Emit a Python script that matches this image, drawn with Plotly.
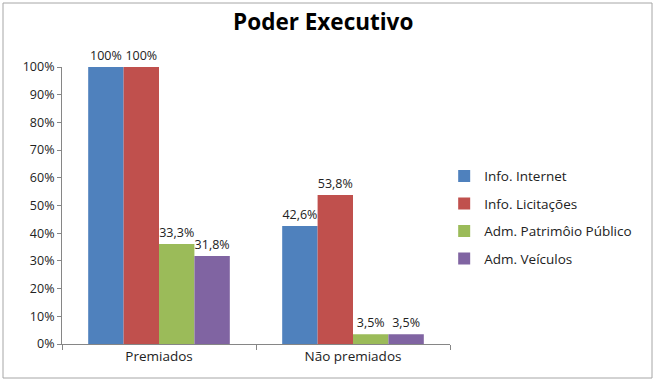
import plotly.graph_objects as go

categories = ["Premiados", "Não premiados"]
series_names = ["Info. Internet", "Info. Licitações", "Adm. Patrimôio Público", "Adm. Veículos"]
values = [
    [100, 42.6],
    [100, 53.8],
    [36.1, 3.5],
    [31.8, 3.5],
]
labels = [
    ["100%", "42,6%"],
    ["100%", "53,8%"],
    ["33,3%", "3,5%"],
    ["31,8%", "3,5%"],
]
colors = ["#4F81BD", "#C0504D", "#9BBB59", "#8064A2"]
y_ticks = list(range(0, 101, 10))
y_tick_text = [f"{v}%" for v in y_ticks]

FONT = "Open Sans, Liberation Sans, sans-serif"

fig = go.Figure()
for name, vals, labs, col in zip(series_names, values, labels, colors):
    fig.add_trace(go.Bar(
        x=categories, y=vals, name=name, legendgroup=name,
        marker=dict(color=col, line=dict(width=0)),
        text=labs, textposition="outside", cliponaxis=False,
        textfont=dict(size=12.5, color="#222222", family=FONT),
    ))

fig.update_layout(
    width=661, height=383,
    margin=dict(l=62, r=211, t=67, b=39, autoexpand=False),
    paper_bgcolor="white", plot_bgcolor="white",
    barmode="group", bargap=0.27, bargroupgap=0,
    title=dict(text="<b>Poder Executivo</b>", x=0.489, xanchor="center", y=0.943, yanchor="middle",
               font=dict(size=22.5, color="#000000", family=FONT)),
    font=dict(family=FONT, color="#222222", size=12.5),
    showlegend=True,
    legend=dict(x=0.985, xanchor="left", y=0.662, yanchor="top",
                font=dict(size=13.5, color="#222222", family=FONT),
                tracegroupgap=7, itemwidth=30, bgcolor="rgba(0,0,0,0)"),
)
fig.update_yaxes(range=[0, 100], tickvals=y_ticks, ticktext=y_tick_text, automargin=False,
                 showgrid=False, showline=True, linecolor="#868686", linewidth=1,
                 ticks="outside", ticklen=4, tickcolor="#868686",
                 tickfont=dict(size=12.5, color="#222222"), zeroline=False)
fig.update_xaxes(showgrid=False, showline=True, linecolor="#868686", linewidth=1, automargin=False,
                 ticks="outside", ticklen=5, tickcolor="#868686", tickson="boundaries",
                 tickfont=dict(size=13.5, color="#222222"))

fig.add_shape(type="rect", xref="paper", yref="paper",
              x0=-59/388, x1=590/388, y0=-34/277, y1=(344-3)/277,
              line=dict(color="#a6a6a6", width=1), layer="below")

fig.write_html("out.html", config={"displayModeBar": False},
               post_script="document.body.style.margin='0';document.body.style.overflow='hidden';")
